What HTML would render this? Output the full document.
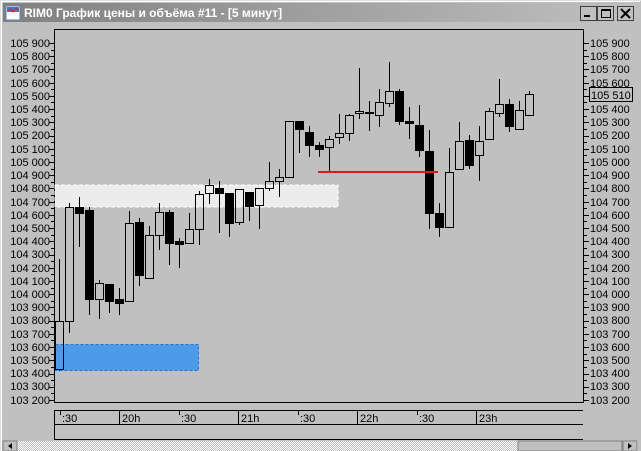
<!DOCTYPE html>
<html><head><meta charset="utf-8"><style>
html,body{margin:0;padding:0;background:#c0c0c0;}
body{width:641px;height:451px;overflow:hidden;position:relative;font-family:"Liberation Sans","DejaVu Sans",sans-serif;}
</style></head><body>
<svg id="s" width="641" height="451" xmlns="http://www.w3.org/2000/svg" style="position:absolute;left:0;top:0" font-family="Liberation Sans, DejaVu Sans, sans-serif">
<defs>
<linearGradient id="tg" x1="0" x2="1" y1="0" y2="0"><stop offset="0" stop-color="#808080"/><stop offset="1" stop-color="#c0c0c0"/></linearGradient>
<pattern id="hp" width="2" height="2" patternUnits="userSpaceOnUse"><rect width="2" height="2" fill="#c0c0c0"/><rect width="1" height="1" fill="#fff"/><rect x="1" y="1" width="1" height="1" fill="#fff"/></pattern>
</defs>
<rect x="0" y="0" width="641" height="451" fill="#c0c0c0"/>
<line x1="0.5" y1="0" x2="0.5" y2="451" stroke="#dfdfdf"/>
<line x1="0" y1="0.5" x2="641" y2="0.5" stroke="#dfdfdf"/>
<line x1="1.5" y1="1" x2="1.5" y2="451" stroke="#fff"/>
<line x1="1" y1="1.5" x2="640" y2="1.5" stroke="#fff"/>
<rect x="3" y="3" width="635" height="19" fill="url(#tg)"/>
<rect x="6" y="6" width="14" height="14" fill="#fff" stroke="#5a7fb0"/>
<rect x="7" y="7" width="12" height="5" fill="#4a78c0"/>
<polyline points="8,11 11,9 13,12 16,8 18,10" fill="none" stroke="#e02020"/>
<text x="24" y="17" font-size="12" font-weight="bold" fill="#fff">RIM0 График цены и объёма #11 - [5 минут]</text>
<g stroke="#000" fill="#c0c0c0">
<rect x="580.5" y="6.5" width="16" height="14" stroke="#404040"/>
<rect x="597.5" y="6.5" width="16" height="14" stroke="#404040"/>
<rect x="617.5" y="6.5" width="16" height="14" stroke="#404040"/>
</g>
<rect x="584" y="15" width="6" height="2" fill="#000"/>
<rect x="601.5" y="9.5" width="9" height="8" fill="none" stroke="#000"/><line x1="601" y1="10.5" x2="611" y2="10.5" stroke="#000"/>
<path d="M621,9 L630,18 M630,9 L621,18" stroke="#000" stroke-width="2"/>
<rect x="54.5" y="29.5" width="529" height="373" fill="#c0c0c0" stroke="#000"/>
<rect x="55" y="185" width="283" height="22" fill="#ececec" stroke="#fff" stroke-dasharray="4,2"/>
<rect x="55.5" y="344.5" width="143" height="26" fill="#4b9be8" stroke="#2a70c8" stroke-dasharray="3,2"/>
<g id="c" stroke="#000" stroke-width="1"></g>
<line x1="318" y1="172" x2="438" y2="172" stroke="#e01818" stroke-width="2"/>
<g id="ticks" stroke="#000"></g>
<g font-size="11" fill="#000" text-anchor="end">
<text x="50" y="47">105 900</text><text x="50" y="60">105 800</text><text x="50" y="73">105 700</text><text x="50" y="87">105 600</text><text x="50" y="100">105 500</text><text x="50" y="113">105 400</text><text x="50" y="126">105 300</text><text x="50" y="139">105 200</text><text x="50" y="153">105 100</text><text x="50" y="166">105 000</text><text x="50" y="179">104 900</text><text x="50" y="192">104 800</text><text x="50" y="206">104 700</text><text x="50" y="219">104 600</text><text x="50" y="232">104 500</text><text x="50" y="245">104 400</text><text x="50" y="258">104 300</text><text x="50" y="272">104 200</text><text x="50" y="285">104 100</text><text x="50" y="298">104 000</text><text x="50" y="311">103 900</text><text x="50" y="324">103 800</text><text x="50" y="338">103 700</text><text x="50" y="351">103 600</text><text x="50" y="364">103 500</text><text x="50" y="377">103 400</text><text x="50" y="390">103 300</text><text x="50" y="404">103 200</text>
</g>
<g font-size="11" fill="#000" text-anchor="start">
<text x="590" y="47">105 900</text><text x="590" y="60">105 800</text><text x="590" y="73">105 700</text><text x="590" y="87">105 600</text><text x="590" y="113">105 400</text><text x="590" y="126">105 300</text><text x="590" y="139">105 200</text><text x="590" y="153">105 100</text><text x="590" y="166">105 000</text><text x="590" y="179">104 900</text><text x="590" y="192">104 800</text><text x="590" y="206">104 700</text><text x="590" y="219">104 600</text><text x="590" y="232">104 500</text><text x="590" y="245">104 400</text><text x="590" y="258">104 300</text><text x="590" y="272">104 200</text><text x="590" y="285">104 100</text><text x="590" y="298">104 000</text><text x="590" y="311">103 900</text><text x="590" y="324">103 800</text><text x="590" y="338">103 700</text><text x="590" y="351">103 600</text><text x="590" y="364">103 500</text><text x="590" y="377">103 400</text><text x="590" y="390">103 300</text><text x="590" y="404">103 200</text>
<rect x="589.5" y="87.5" width="43" height="14" fill="none" stroke="#000"/>
<text x="591" y="99">105 510</text>
</g>
<line x1="54" y1="410.5" x2="583" y2="410.5" stroke="#000"/>
<line x1="54" y1="424.5" x2="583" y2="424.5" stroke="#000"/>
<line x1="54" y1="439.5" x2="583" y2="439.5" stroke="#000"/>
<line x1="54.5" y1="410" x2="54.5" y2="440" stroke="#000"/>
<g stroke="#000"><line x1="119.5" y1="410" x2="119.5" y2="424"/><line x1="238.5" y1="410" x2="238.5" y2="424"/><line x1="357.5" y1="410" x2="357.5" y2="424"/><line x1="476.5" y1="410" x2="476.5" y2="424"/>
<line x1="60.5" y1="411" x2="60.5" y2="415"/><line x1="179.5" y1="411" x2="179.5" y2="415"/><line x1="298.5" y1="411" x2="298.5" y2="415"/><line x1="417.5" y1="411" x2="417.5" y2="415"/></g>
<g font-size="11" fill="#000">
<text x="62" y="422">:30</text><text x="122" y="422">20h</text><text x="181" y="422">:30</text><text x="241" y="422">21h</text><text x="300" y="422">:30</text><text x="360" y="422">22h</text><text x="419" y="422">:30</text><text x="479" y="422">23h</text>
</g>
<rect x="3" y="441" width="635" height="10" fill="url(#hp)"/>
<rect x="3" y="441" width="14" height="10" fill="#c0c0c0" stroke="#808080"/>
<path d="M12,443 L8,446 L12,449 Z" fill="#000"/>
<rect x="518" y="441" width="104" height="10" fill="#c0c0c0" stroke="#808080"/>
<rect x="623" y="441" width="14" height="10" fill="#c0c0c0" stroke="#808080"/>
<path d="M628,443 L632,446 L628,449 Z" fill="#000"/>
</svg>
<script>
var ns="http://www.w3.org/2000/svg";
function el(p,n,a){var e=document.createElementNS(ns,n);for(var k in a)e.setAttribute(k,a[k]);p.appendChild(e);return e;}
var t=document.getElementById("ticks");
for(var i=0;i<=27;i++){var y=Math.round(43+i*13.222)+0.5;
el(t,"line",{x1:49,y1:y,x2:54,y2:y});el(t,"line",{x1:584,y1:y,x2:589,y2:y});
if(i<27){var y2=Math.round(43+(i+0.5)*13.222)+0.5;el(t,"line",{x1:51,y1:y2,x2:54,y2:y2});el(t,"line",{x1:584,y1:y2,x2:587,y2:y2});}}
var d=[[321,369,259,371,0],[207,321,203,333,0],[207,213,197,247,1],[210,299,207,315,1],[283,299,280,319,0],[284,301,284,313,1],[299,303,288,315,1],[223,301,211,301,0],[222,275,218,286,1],[235,278,226,278,0],[212,235,203,250,0],[212,243,210,265,1],[241,244,238,268,1],[229,243,213,243,0],[194,229,191,245,0],[185,193,179,204,0],[188,193,181,233,1],[193,223,193,237,1],[189,222,189,225,0],[192,206,192,221,1],[188,205,188,229,0],[181,188,162,191,0],[177,181,169,197,0],[121,177,121,178,0],[121,129,121,153,1],[132,145,126,157,1],[145,149,142,157,1],[139,147,136,171,0],[133,137,114,144,0],[115,133,114,141,0],[111,113,68,119,0],[112,113,101,131,1],[102,115,89,127,0],[91,103,62,107,0],[91,121,89,125,1],[121,123,107,139,1],[125,150,105,157,1],[151,213,130,229,1],[213,227,203,237,1],[172,227,148,227,0],[141,169,122,169,0],[140,165,135,169,1],[141,155,126,181,0],[111,139,108,139,0],[104,113,79,117,0],[104,126,99,132,1],[110,129,101,129,0],[94,115,91,115,0]];
var g=document.getElementById("c");
d.forEach(function(c,i){var x=59.5+10*i;
var h=Math.max(c[1]-c[0],1);
if(c[4]){el(g,"line",{x1:x,y1:c[2],x2:x,y2:c[3]});el(g,"rect",{x:x-4.5,y:c[0],width:9,height:h+1,fill:"#000",stroke:"none"});}
else{el(g,"line",{x1:x,y1:c[2],x2:x,y2:c[0]});el(g,"line",{x1:x,y1:c[1],x2:x,y2:c[3]});el(g,"rect",{x:x-4,y:c[0]+0.5,width:8,height:h,fill:"none"});}
});
</script>
</body></html>
